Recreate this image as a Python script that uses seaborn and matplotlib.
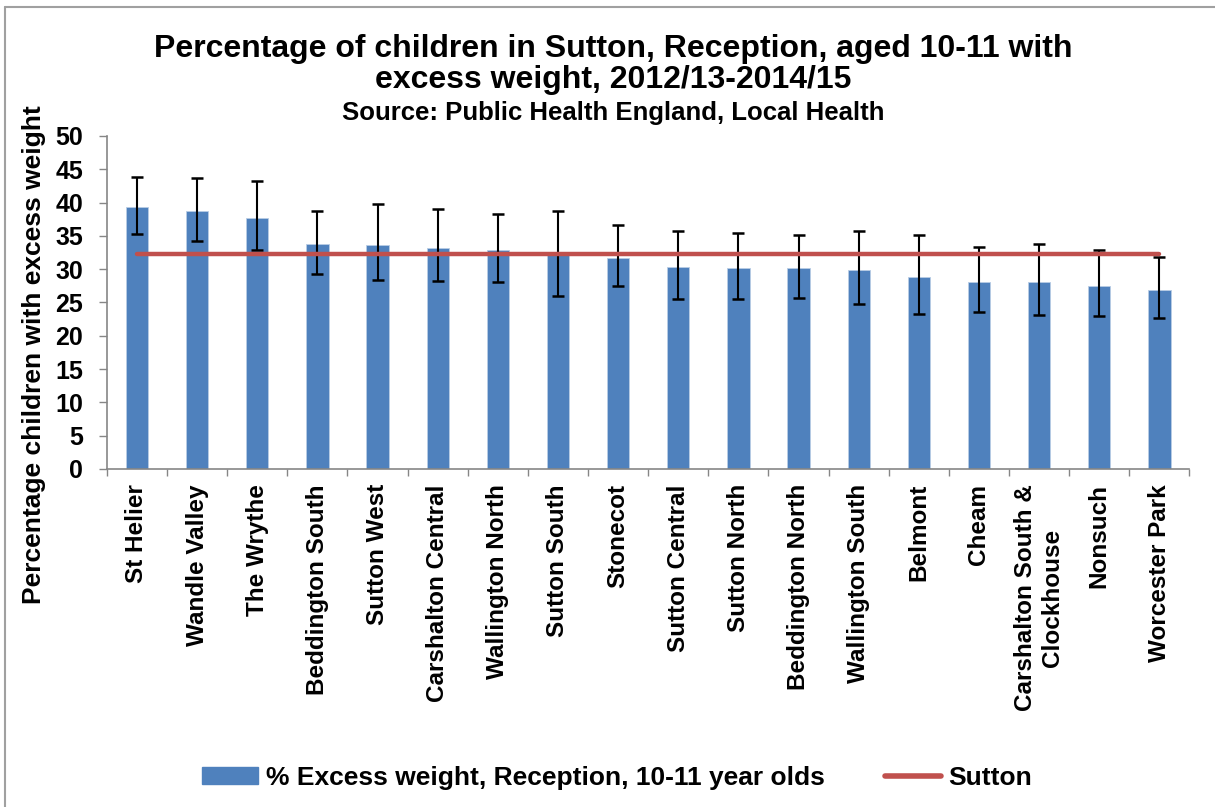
import matplotlib
matplotlib.use("Agg")
import matplotlib.pyplot as plt
import seaborn as sns
import pandas as pd
import numpy as np
from matplotlib.patches import Patch
from matplotlib.lines import Line2D

categories = ["St Helier", "Wandle Valley", "The Wrythe", "Beddington South", "Sutton West",
              "Carshalton Central", "Wallington North", "Sutton South", "Stonecot",
              "Sutton Central", "Sutton North", "Beddington North", "Wallington South",
              "Belmont", "Cheam", "Carshalton South &\nClockhouse", "Nonsuch", "Worcester Park"]
values = [39.3, 38.8, 37.7, 33.8, 33.7, 33.2, 32.8, 32.4, 31.7,
          30.3, 30.1, 30.1, 29.8, 28.8, 28.1, 28.1, 27.5, 26.9]
ci_lower = [35.3, 34.3, 32.8, 29.3, 28.4, 28.2, 28.0, 25.9, 27.5,
            25.5, 25.5, 25.7, 24.8, 23.3, 23.5, 23.1, 22.9, 22.6]
ci_upper = [43.8, 43.7, 43.2, 38.8, 39.8, 39.0, 38.3, 38.8, 36.6,
            35.7, 35.4, 35.1, 35.8, 35.2, 33.3, 33.8, 32.9, 31.8]
sutton_value = 32.3
sutton = [sutton_value] * len(categories)

bar_label = "% Excess weight, Reception, 10-11 year olds"
line_label = "Sutton"
title_lines = ["Percentage of children in Sutton, Reception, aged 10-11 with",
               "excess weight, 2012/13-2014/15"]
subtitle = "Source: Public Health England, Local Health"
ylabel = "Percentage children with excess weight"
yticks = [0, 5, 10, 15, 20, 25, 30, 35, 40, 45, 50]

sns.set_theme(style="white")
plt.rcParams['font.family'] = ['Liberation Sans', 'DejaVu Sans']
plt.rcParams['font.weight'] = 'bold'
plt.rcParams['text.color'] = 'black'
plt.rcParams['axes.labelcolor'] = 'black'
plt.rcParams['xtick.color'] = 'black'
plt.rcParams['ytick.color'] = 'black'

df = pd.DataFrame({"ward": categories, "value": values})

fig = plt.figure(figsize=(12.15, 8.07), dpi=100)
ax = fig.add_axes([0.088, 0.419, 0.891, 0.4125])

bar_color = "#4F81BD"
line_color = "#C0504D"

sns.barplot(data=df, x="ward", y="value", order=categories, color=bar_color,
            saturation=1, width=0.37, ax=ax, errorbar=None)
for p in ax.patches:
    p.set_edgecolor("#B9CDE5")
    p.set_linewidth(0.6)

x = np.arange(len(categories))
vals = np.array(values)
lower_err = vals - np.array(ci_lower)
upper_err = np.array(ci_upper) - vals
ax.errorbar(x, vals, yerr=[lower_err, upper_err], fmt="none", ecolor="black",
            elinewidth=1.5, capsize=4.5, capthick=1.8, zorder=3)
ax.plot(x, sutton, color=line_color, linewidth=3.2, solid_capstyle="round", zorder=4)

ax.set_ylim(0, 50)
ax.set_xlim(-0.5, len(categories) - 0.5)
ax.set_yticks(yticks)
ax.set_yticklabels([str(v) for v in yticks], fontsize=18, fontweight="bold")
ax.set_xticks(x)
ax.set_xticklabels(categories, rotation=90, fontsize=17.5, fontweight="bold",
                   ha="center", va="top", multialignment="center")
ax.tick_params(axis="x", length=0, pad=11)
ax.set_xticks(np.arange(-0.5, len(categories) + 0.5, 1), minor=True)
ax.tick_params(axis="x", which="minor", length=5, color="#868686", width=1, direction="out", bottom=True)
ax.tick_params(axis="y", length=6, color="#868686", width=1, direction="out", left=True, pad=11)
ax.set_xlabel("")
ax.set_ylabel(ylabel, fontsize=19, fontweight="bold")
ax.yaxis.set_label_coords(-0.056, 0.342)

for side in ["top", "right"]:
    ax.spines[side].set_visible(False)
for side in ["left", "bottom"]:
    ax.spines[side].set_color("#868686")
    ax.spines[side].set_linewidth(1.2)

fig.text(0.505, 0.9297, title_lines[0], ha="center", va="baseline", fontsize=23, fontweight="bold")
fig.text(0.505, 0.8905, title_lines[1], ha="center", va="baseline", fontsize=23, fontweight="bold")
fig.text(0.505, 0.8513, subtitle, ha="center", va="baseline", fontsize=18.5, fontweight="bold")

handles = [Patch(facecolor=bar_color, edgecolor=bar_color),
           Line2D([0], [0], color=line_color, linewidth=4, solid_capstyle="round")]
fig.legend(handles, [bar_label, line_label], loc="center", bbox_to_anchor=(0.508, 0.036),
           ncol=2, frameon=False, handlelength=2.1, handleheight=0.6,
           columnspacing=2.3, handletextpad=0.3, prop={"weight": "bold", "size": 19})

# chart frame: only top and left edges are visible in the reference crop
fig.add_artist(Line2D([0.004, 1.0], [0.991, 0.991], transform=fig.transFigure,
                      color="#A0A0A0", linewidth=1.5))
fig.add_artist(Line2D([0.004, 0.004], [0.0, 0.991], transform=fig.transFigure,
                      color="#A0A0A0", linewidth=1.5))

fig.savefig("out.png", dpi=100)
